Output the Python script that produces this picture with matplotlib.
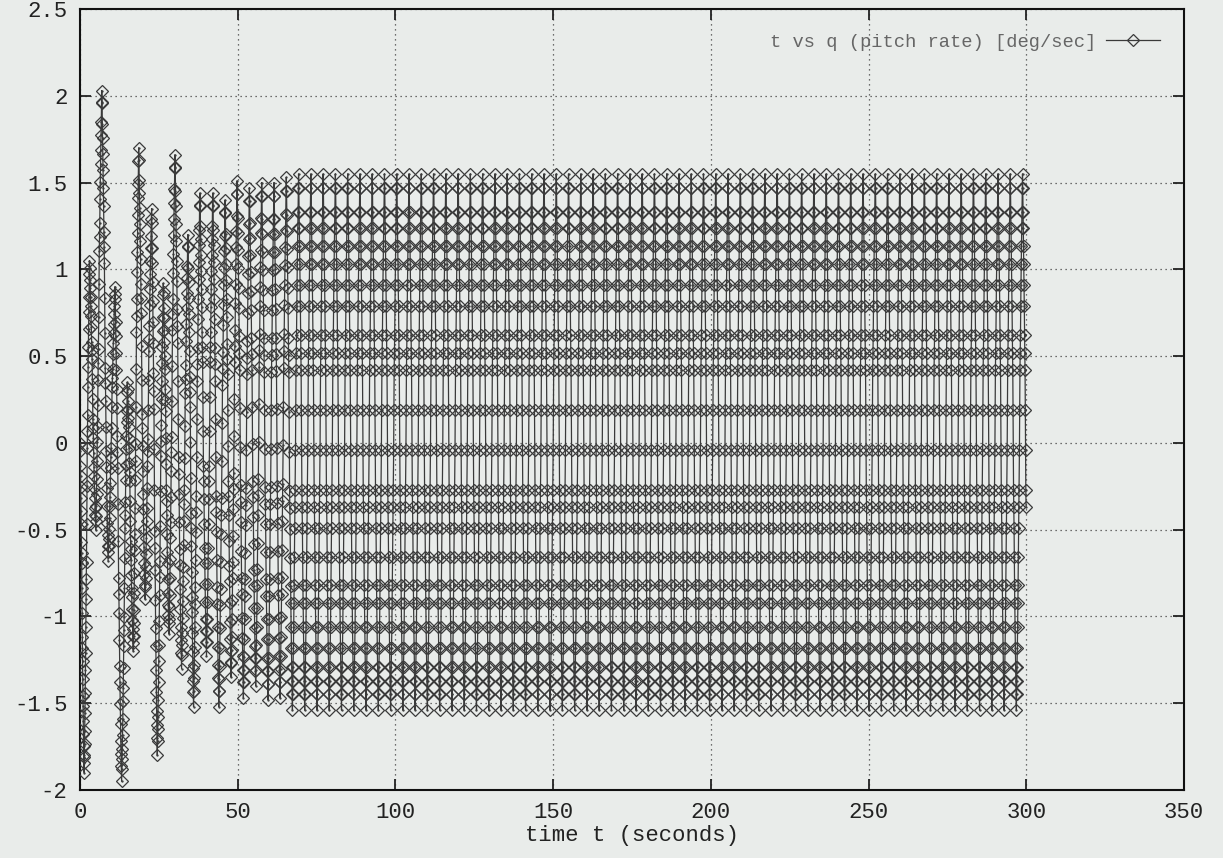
import numpy as np
import matplotlib
matplotlib.use("Agg")
import matplotlib.pyplot as plt

# ---- data ----
# transient extrema (alternating peaks / troughs) of q, time in seconds
ext_t = [0.0, 1.3, 3.0, 5.0, 6.9, 8.9, 11.1, 13.2, 15.0, 16.9, 18.6, 20.6, 22.7,
         24.5, 26.4, 28.2, 30.1, 32.2, 34.2, 36.0, 38.0, 40.1, 42.1, 44.0, 46.0,
         47.9, 49.8, 51.8, 53.7, 55.7, 57.6, 59.6, 61.5, 63.4, 65.4]
ext_v = [0.0, -1.9, 1.05, -0.5, 2.03, -0.68, 0.9, -1.95, 0.35, -1.2, 1.7, -0.9, 1.35,
         -1.8, 0.92, -1.1, 1.66, -1.3, 1.2, -1.52, 1.44, -1.23, 1.44, -1.52, 1.40,
         -1.35, 1.51, -1.47, 1.47, -1.40, 1.50, -1.48, 1.50, -1.47, 1.53]

# sampled levels seen in the steady-state oscillation (each hit rising and falling)
levels = [-1.54, -1.445, -1.37, -1.29, -1.18, -1.06, -0.92, -0.82, -0.66, -0.49,
          -0.37, -0.27, -0.04, 0.19, 0.42, 0.52, 0.62, 0.79, 0.91, 1.03, 1.135,
          1.24, 1.33, 1.47, 1.55]
steady_period = 3.89
t_end = 300.0

x_ticks = [0, 50, 100, 150, 200, 250, 300, 350]
y_ticks = [-2, -1.5, -1, -0.5, 0, 0.5, 1, 1.5, 2, 2.5]
y_tick_labels = ["-2", "-1.5", "-1", "-0.5", "0", "0.5", "1", "1.5", "2", "2.5"]
legend_label = "t vs q (pitch rate) [deg/sec]"
x_label = "time t (seconds)"

# ---- build sample sequence ----
lo, hi = levels[0], levels[-1]
span = hi - lo
rise_shape = [(v - lo) / span for v in levels[:-1]]
fall_shape = [(hi - v) / span for v in levels[::-1][:-1]]

ts, vs = [], []


def add_half(t0, v0, t1, v1):
    shape = rise_shape if v1 > v0 else fall_shape
    n = len(shape)
    for j, f in enumerate(shape):
        ts.append(t0 + (t1 - t0) * j / n)
        vs.append(v0 + (v1 - v0) * f)


for i in range(len(ext_t) - 1):
    add_half(ext_t[i], ext_v[i], ext_t[i + 1], ext_v[i + 1])

dt = steady_period / (len(rise_shape) + len(fall_shape))
t_cur, v_cur = ext_t[-1], ext_v[-1]
while t_cur <= t_end:
    t_next = t_cur + len(fall_shape) * dt
    add_half(t_cur, v_cur, t_next, lo)
    t_cur, v_cur = t_next, lo
    t_next = t_cur + len(rise_shape) * dt
    add_half(t_cur, v_cur, t_next, hi)
    t_cur, v_cur = t_next, hi

ts = np.array(ts)
vs = np.array(vs)
keep = ts <= t_end + 1e-6
ts, vs = ts[keep], vs[keep]

# ---- draw ----
plt.rcParams['font.family'] = ['Liberation Mono', 'DejaVu Sans Mono']
bg = '#e9ecea'
ink = '#3a3a3a'

fig = plt.figure(figsize=(12.23, 8.58), dpi=100, facecolor=bg)
ax = fig.add_axes([80 / 1223, 1 - 790 / 858, 1104 / 1223, 781 / 858], facecolor=bg)

ax.plot(ts, vs, '-', color=ink, lw=0.9, marker='D', ms=6.5, mfc='none',
        mec=ink, mew=0.9, label=legend_label, zorder=3)
ax.plot(ts, vs, ls='none', marker='.', ms=1.3, color=ink, zorder=4)

ax.set_xlim(0, 350)
ax.set_ylim(-2, 2.5)
ax.set_xticks(x_ticks)
ax.set_xticklabels([str(v) for v in x_ticks])
ax.set_yticks(y_ticks)
ax.set_yticklabels(y_tick_labels)

ax.grid(True, linestyle=(0, (1, 3)), color='#444444', linewidth=0.9)
ax.set_axisbelow(True)
ax.tick_params(direction='in', length=8, width=1.3, top=True, right=True,
               labelsize=16, pad=9, colors='#222222')
for s in ax.spines.values():
    s.set_linewidth(1.5)
    s.set_color('#111111')

ax.set_xlabel(x_label, fontsize=16, color='#222222', labelpad=1)

leg = ax.legend(loc='upper right', bbox_to_anchor=(0.985, 0.978), borderaxespad=0,
                frameon=False, markerfirst=False, fontsize=13.5, handlelength=2.9,
                handletextpad=0.5, numpoints=1)
for txt in leg.get_texts():
    txt.set_color('#666666')

fig.savefig('out.png', dpi=100, facecolor=bg)
